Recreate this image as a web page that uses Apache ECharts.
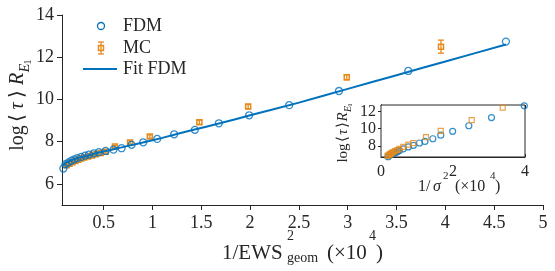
<!DOCTYPE html>
<html>
<head>
<meta charset="utf-8">
<script src="https://cdn.jsdelivr.net/npm/echarts@6/dist/echarts.min.js"></script>
<style>
  html, body { margin: 0; padding: 0; background: #fff; }
  #chart { width: 555px; height: 271px; }
</style>
</head>
<body>
<div id="chart"></div>
<script>
// main panel: FDM points
const fdmX = [0.087, 0.11, 0.14, 0.17, 0.2, 0.23, 0.27, 0.31, 0.35, 0.40, 0.45, 0.52, 0.60, 0.683, 0.786, 0.905, 1.048, 1.222, 1.434, 1.68, 1.99, 2.40, 2.91, 3.62, 4.62];
const fdmY = [6.73, 6.93, 7.02, 7.1, 7.16, 7.22, 7.28, 7.34, 7.39, 7.45, 7.5, 7.56, 7.62, 7.69, 7.85, 7.97, 8.13, 8.35, 8.56, 8.87, 9.25, 9.73, 10.40, 11.35, 12.74];

// main panel: MC points with error
const mcX = [0.12, 0.15, 0.18, 0.21, 0.24, 0.27, 0.3, 0.34, 0.38, 0.42, 0.47, 0.52, 0.615, 0.77, 0.973, 1.48, 1.98, 2.99, 3.955];
const mcY = [6.88, 6.95, 7.02, 7.08, 7.14, 7.2, 7.25, 7.3, 7.35, 7.4, 7.46, 7.52, 7.77, 7.96, 8.24, 8.92, 9.66, 11.05, 12.5];
const mcErr = [0.05, 0.05, 0.05, 0.05, 0.05, 0.05, 0.05, 0.05, 0.05, 0.05, 0.05, 0.06, 0.06, 0.07, 0.08, 0.1, 0.1, 0.12, 0.31];

// fit line
const fitX = [0.073, 0.1, 0.13, 0.17, 0.22, 0.28, 0.35, 0.43, 0.52, 0.62, 0.75, 0.9, 1.1, 1.4, 1.7, 2.0, 2.5, 3.0, 3.5, 4.0, 4.62];
const fitY = [6.88, 6.96, 7.04, 7.12, 7.2, 7.28, 7.36, 7.46, 7.56, 7.66, 7.8, 7.96, 8.18, 8.54, 8.88, 9.25, 9.85, 10.5, 11.15, 11.8, 12.6];

// inset panel
const insetFdmX = [0.2, 0.25, 0.29, 0.33, 0.37, 0.42, 0.46, 0.51, 0.62, 0.76, 0.9, 1.07, 1.22, 1.44, 1.66, 1.99, 2.44, 3.07, 3.98];
const insetFdmY = [6.77, 6.95, 7.04, 7.12, 7.2, 7.28, 7.36, 7.47, 7.67, 7.9, 8.08, 8.35, 8.53, 8.84, 9.25, 9.7, 10.34, 11.29, 12.65];
const insetMcX = [0.18, 0.21, 0.23, 0.26, 0.28, 0.3, 0.34, 0.39, 0.45, 0.51, 0.62, 0.76, 0.9, 1.25, 1.66, 2.52, 3.38];
const insetMcY = [6.85, 6.93, 7.0, 7.06, 7.12, 7.2, 7.3, 7.4, 7.53, 7.67, 7.9, 8.15, 8.35, 9.03, 9.74, 11.0, 12.43];

// ticks
const mainXTicks = [0.5, 1, 1.5, 2, 2.5, 3, 3.5, 4, 4.5, 5];
const mainYTicks = [6, 8, 10, 12, 14];
const insetXTicks = [0, 2, 4];
const insetYTicks = [8, 10, 12];

const blue = '#0072BD';
const orange = '#E68A1C';
const ink = '#262626';
const serif = '"Liberation Serif", "DejaVu Serif", serif';

const zip = (xs, ys) => xs.map((x, i) => [x, ys[i]]);

function errorBar(params, api) {
  const x = api.value(0), y = api.value(1), e = api.value(2);
  const c = api.coord([x, y]);
  const top = api.coord([x, y + e])[1];
  const bot = api.coord([x, y - e])[1];
  const hw = 3, s = 5;
  const st = { stroke: orange, lineWidth: 1.3, fill: null };
  return {
    type: 'group',
    children: [
      { type: 'line', shape: { x1: c[0], y1: top, x2: c[0], y2: bot }, style: st },
      { type: 'line', shape: { x1: c[0] - hw, y1: top, x2: c[0] + hw, y2: top }, style: st },
      { type: 'line', shape: { x1: c[0] - hw, y1: bot, x2: c[0] + hw, y2: bot }, style: st },
      { type: 'rect', shape: { x: c[0] - s / 2, y: c[1] - s / 2, width: s, height: s },
        style: { stroke: orange, lineWidth: 1.5, fill: 'none' } }
    ]
  };
}

// text piece; italic=true for math symbols
function txt(text, x, y, size, align, italic, extra) {
  return Object.assign({
    type: 'text', x: x, y: y,
    style: { text: text, font: (italic ? 'italic ' : '') + size + 'px ' + serif, fill: ink,
             align: align || 'left', verticalAlign: 'middle' }
  }, extra || {});
}

const chart = echarts.init(document.getElementById('chart'));

const mainAxisLine = { lineStyle: { color: ink, width: 1 } };

chart.setOption({
  animation: false,
  textStyle: { fontFamily: serif },
  grid: [
    { left: 62, top: 15, right: 12, bottom: 66 },
    { left: 381, top: 105, right: 30, bottom: 114, show: true, backgroundColor: '#fff',
      borderColor: ink, borderWidth: 1, z: 5 }
  ],
  xAxis: [
    { gridIndex: 0, type: 'value', min: 0.073, max: 5,
      axisLine: mainAxisLine, splitLine: { show: false },
      axisTick: { customValues: mainXTicks, length: 5, lineStyle: { color: ink } },
      axisLabel: { customValues: mainXTicks, color: ink, fontSize: 18, margin: 9, fontFamily: serif } },
    { gridIndex: 1, type: 'value', min: 0, max: 4,
      axisLine: mainAxisLine, splitLine: { show: false },
      axisTick: { customValues: insetXTicks, inside: true, length: 3, lineStyle: { color: ink } },
      axisLabel: { customValues: insetXTicks, color: ink, fontSize: 16, margin: 7, fontFamily: serif } },
    { gridIndex: 1, type: 'value', min: 0, max: 4, position: 'top',
      axisLine: mainAxisLine, splitLine: { show: false },
      axisTick: { customValues: insetXTicks, inside: true, length: 3, lineStyle: { color: ink } },
      axisLabel: { show: false } }
  ],
  yAxis: [
    { gridIndex: 0, type: 'value', min: 5, max: 14,
      axisLine: { show: true, lineStyle: { color: ink, width: 1 } }, splitLine: { show: false },
      axisTick: { show: true, customValues: mainYTicks, length: 5, lineStyle: { color: ink } },
      axisLabel: { customValues: mainYTicks, color: ink, fontSize: 18, margin: 8, fontFamily: serif } },
    { gridIndex: 1, type: 'value', min: 6.73, max: 12.74,
      axisLine: { show: true, lineStyle: { color: ink, width: 1 } }, splitLine: { show: false },
      axisTick: { show: true, customValues: insetYTicks, inside: true, length: 3, lineStyle: { color: ink } },
      axisLabel: { customValues: insetYTicks, color: ink, fontSize: 16, margin: 5, fontFamily: serif } },
    { gridIndex: 1, type: 'value', min: 6.73, max: 12.74, position: 'right',
      axisLine: { show: true, lineStyle: { color: ink, width: 1 } }, splitLine: { show: false },
      axisTick: { show: true, customValues: insetYTicks, inside: true, length: 3, lineStyle: { color: ink } },
      axisLabel: { show: false } }
  ],
  series: [
    { name: 'FDM', type: 'scatter', xAxisIndex: 0, yAxisIndex: 0, data: zip(fdmX, fdmY),
      symbol: 'circle', symbolSize: 7, clip: false,
      itemStyle: { color: 'rgba(0,0,0,0)', borderColor: blue, borderWidth: 1.3 } },
    { name: 'MC', type: 'custom', xAxisIndex: 0, yAxisIndex: 0, renderItem: errorBar,
      data: mcX.map((x, i) => [x, mcY[i], mcErr[i]]), clip: false },
    { name: 'Fit FDM', type: 'line', xAxisIndex: 0, yAxisIndex: 0, data: zip(fitX, fitY),
      showSymbol: false, smooth: 0.2, lineStyle: { color: blue, width: 2 }, z: 4 },
    { name: 'FDM inset', type: 'scatter', xAxisIndex: 1, yAxisIndex: 1, data: zip(insetFdmX, insetFdmY),
      symbol: 'circle', symbolSize: 6, clip: false, z: 10,
      itemStyle: { color: 'rgba(0,0,0,0)', borderColor: blue, borderWidth: 1.2 } },
    { name: 'MC inset', type: 'scatter', xAxisIndex: 1, yAxisIndex: 1, data: zip(insetMcX, insetMcY),
      symbol: 'rect', symbolSize: 5, clip: false, z: 10,
      itemStyle: { color: 'rgba(0,0,0,0)', borderColor: orange, borderWidth: 1.2 } }
  ],
  graphic: [
    // legend
    { type: 'circle', shape: { cx: 101, cy: 26, r: 3.5 }, style: { fill: 'none', stroke: blue, lineWidth: 1.3 }, z: 100 },
    { type: 'line', shape: { x1: 101, y1: 42, x2: 101, y2: 54 }, style: { stroke: orange, lineWidth: 1.3 }, z: 100 },
    { type: 'line', shape: { x1: 98, y1: 42, x2: 104, y2: 42 }, style: { stroke: orange, lineWidth: 1.3 }, z: 100 },
    { type: 'line', shape: { x1: 98, y1: 54, x2: 104, y2: 54 }, style: { stroke: orange, lineWidth: 1.3 }, z: 100 },
    { type: 'rect', shape: { x: 98.5, y: 45.5, width: 5, height: 5 }, style: { fill: 'none', stroke: orange, lineWidth: 1.5 }, z: 100 },
    { type: 'line', shape: { x1: 83, y1: 69, x2: 117, y2: 69 }, style: { stroke: blue, lineWidth: 2 }, z: 100 },
    txt('FDM', 123, 26, 18, 'left', false, { z: 100 }),
    txt('MC', 123, 48, 18, 'left', false, { z: 100 }),
    txt('Fit FDM', 123, 69, 18, 'left', false, { z: 100 }),

    // main x title
    txt('1/EWS', 222, 253, 21),
    txt('2', 287, 236, 14),
    txt('geom', 287, 258, 14),
    txt('(×10', 327, 253, 21),
    txt('4', 369, 236, 14),
    txt(')', 376, 253, 21),

    // main y title (rotated, reads bottom to top)
    { type: 'group', x: 18, y: 151, rotation: Math.PI / 2, children: [
      txt('log', 13, 0, 20, 'center'),
      txt('⟨', 33, 0, 20, 'center'),
      txt('τ', 45, 0, 20, 'center', true),
      txt('⟩', 57, 0, 20, 'center'),
      txt('R', 72, 0, 20, 'center', true),
      txt('E', 83, 7, 14, 'center', true),
      txt('1', 89, 10, 10, 'center')
    ] },

    // inset x title
    txt('1/', 418, 187, 16),
    txt('σ', 433, 187, 16, 'left', true),
    txt('2', 443, 176, 11),
    txt('(×10', 455, 187, 16),
    txt('4', 490, 176, 11),
    txt(')', 495, 187, 16),

    // inset y title (rotated)
    { type: 'group', x: 343, y: 163, rotation: Math.PI / 2, children: [
      txt('log', 10, 0, 15, 'center'),
      txt('⟨', 24, 0, 15, 'center'),
      txt('τ', 31, 0, 15, 'center', true),
      txt('⟩', 38, 0, 15, 'center'),
      txt('R', 46, 0, 15, 'center', true),
      txt('E', 54, 5, 10, 'center', true),
      txt('1', 58, 7, 7, 'center')
    ] }
  ]
});
</script>
</body>
</html>
